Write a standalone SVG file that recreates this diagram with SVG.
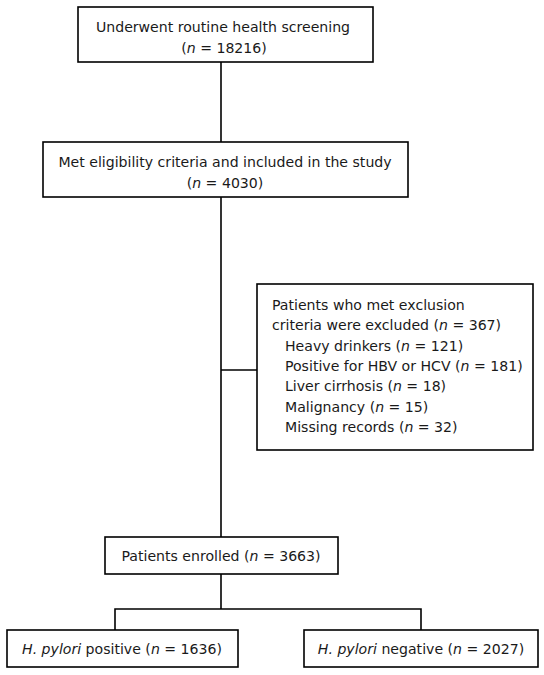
<svg xmlns="http://www.w3.org/2000/svg" width="544" height="675" viewBox="0 0 544 675">
<style>
.box{fill:#fff;stroke:#000;stroke-width:1.6}
.ln{stroke:#000;stroke-width:1.6;fill:none}
text{font-family:"DejaVu Sans","Liberation Sans",sans-serif;font-size:14.1px;fill:#1a1a1a}
.c{text-anchor:middle}
.i{font-style:italic}
</style>
<rect width="544" height="675" fill="#fff"/>
<g id="connectors">
<line class="ln" x1="221" y1="62" x2="221" y2="142"/>
<line class="ln" x1="221" y1="197" x2="221" y2="537"/>
<line class="ln" x1="221" y1="370" x2="257" y2="370"/>
<line class="ln" x1="221" y1="574" x2="221" y2="609"/>
<polyline class="ln" points="115,630 115,609 421,609 421,630"/>
</g>
<g id="n1">
<rect class="box" x="78" y="7" width="295" height="55"/>
<text class="c" x="223" y="32">Underwent routine health screening</text>
<text class="c" x="224" y="53">(<tspan class="i">n</tspan> = 18216)</text>
</g>
<g id="n2">
<rect class="box" x="43" y="142" width="365" height="55"/>
<text class="c" x="225" y="167">Met eligibility criteria and included in the study</text>
<text class="c" x="225" y="188">(<tspan class="i">n</tspan> = 4030)</text>
</g>
<g id="n3">
<rect class="box" x="257" y="284" width="276" height="166"/>
<text x="272" y="310">Patients who met exclusion</text>
<text x="272" y="330">criteria were excluded (<tspan class="i">n</tspan> = 367)</text>
<text x="285" y="351">Heavy drinkers (<tspan class="i">n</tspan> = 121)</text>
<text x="285" y="371">Positive for HBV or HCV (<tspan class="i">n</tspan> = 181)</text>
<text x="285" y="391">Liver cirrhosis (<tspan class="i">n</tspan> = 18)</text>
<text x="285" y="412">Malignancy (<tspan class="i">n</tspan> = 15)</text>
<text x="285" y="432">Missing records (<tspan class="i">n</tspan> = 32)</text>
</g>
<g id="n4">
<rect class="box" x="105" y="537" width="233" height="37"/>
<text class="c" x="221" y="561">Patients enrolled (<tspan class="i">n</tspan> = 3663)</text>
</g>
<g id="n5">
<rect class="box" x="7" y="630" width="231" height="37"/>
<text class="c" x="122" y="654"><tspan class="i">H. pylori</tspan> positive (<tspan class="i">n</tspan> = 1636)</text>
</g>
<g id="n6">
<rect class="box" x="304" y="630" width="234" height="37"/>
<text class="c" x="421" y="654"><tspan class="i">H. pylori</tspan> negative (<tspan class="i">n</tspan> = 2027)</text>
</g>
</svg>
